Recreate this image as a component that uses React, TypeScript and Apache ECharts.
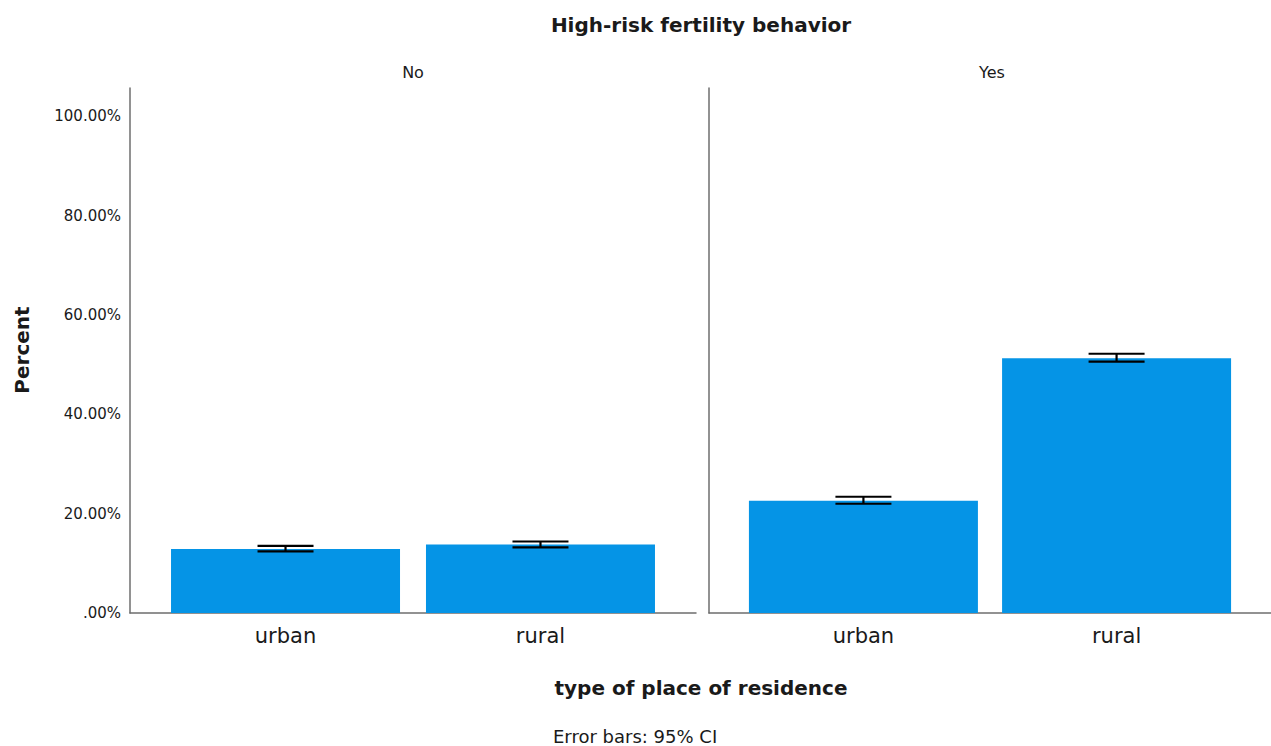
import React, { useEffect, useRef } from "react";
import * as echarts from "echarts";

const categories = ["urban", "rural"];
const panels = ["No", "Yes"];
const noValues = [12.9, 13.8];
const yesValues = [22.6, 51.3];
const noCiLow = [12.4, 13.2];
const noCiHigh = [13.5, 14.4];
const yesCiLow = [22.0, 50.6];
const yesCiHigh = [23.4, 52.2];
const yTicks = [0, 20, 40, 60, 80, 100];

const FONT = "DejaVu Sans";
const BAR_COLOR = "#0594E6";
const AXIS_COLOR = "#6e6e6e";

export default function App() {
  const ref = useRef<HTMLDivElement>(null);
  useEffect(() => {
    if (!ref.current) return;
    const chart = echarts.init(ref.current, undefined, { renderer: "svg" });
    const panelValues = [noValues, yesValues];
    const panelLow = [noCiLow, yesCiLow];
    const panelHigh = [noCiHigh, yesCiHigh];
    const gridLefts = [130, 709];
    const grids = gridLefts.map((l) => ({ left: l, top: 88, width: 566, height: 525 }));
    const xAxes = gridLefts.map((_, i) => ({
      type: "value",
      gridIndex: i,
      min: -0.61,
      max: 1.61,
      axisLine: { show: true, onZero: false, lineStyle: { color: AXIS_COLOR, width: 1.5 } },
      axisTick: { show: false },
      splitLine: { show: false },
      axisLabel: {
        customValues: categories.map((_, k) => k),
        formatter: (v: number) => categories[Math.round(v)] ?? "",
        fontFamily: FONT,
        fontSize: 21,
        color: "#1a1a1a",
        margin: 12,
      },
    }));
    const yAxes = gridLefts.map((_, i) => ({
      type: "value",
      gridIndex: i,
      min: 0,
      max: 105.7,
      interval: 20,
      axisLine: { show: true, onZero: false, lineStyle: { color: AXIS_COLOR, width: 1.5 } },
      axisTick: { show: false },
      splitLine: { show: false },
      axisLabel: {
        show: i === 0,
        customValues: yTicks,
        formatter: (v: number) => (v === 0 ? ".00%" : v.toFixed(2) + "%"),
        fontFamily: FONT,
        fontSize: 15,
        color: "#1a1a1a",
        margin: 9,
      },
    }));
    const series: any[] = [];
    panels.forEach((_, i) => {
      series.push({
        type: "bar",
        xAxisIndex: i,
        yAxisIndex: i,
        barWidth: 229,
        itemStyle: { color: BAR_COLOR },
        data: panelValues[i].map((v, k) => [k, v]),
      });
      series.push({
        type: "custom",
        xAxisIndex: i,
        yAxisIndex: i,
        z: 10,
        data: panelLow[i].map((lo, k) => [k, lo, panelHigh[i][k]]),
        renderItem: (params: any, api: any) => {
          const x = api.value(0);
          const lo = api.coord([x, api.value(1)]);
          const hi = api.coord([x, api.value(2)]);
          const cx = lo[0];
          const hw = 28;
          const style = { stroke: "#000", lineWidth: 2.2 };
          return {
            type: "group",
            children: [
              { type: "line", shape: { x1: cx, y1: lo[1], x2: cx, y2: hi[1] }, style },
              { type: "line", shape: { x1: cx - hw, y1: lo[1], x2: cx + hw, y2: lo[1] }, style },
              { type: "line", shape: { x1: cx - hw, y1: hi[1], x2: cx + hw, y2: hi[1] }, style },
            ],
          };
        },
      });
    });
    chart.setOption({
      animation: false,
      backgroundColor: "#fff",
      grid: grids,
      xAxis: xAxes,
      yAxis: yAxes,
      series,
      graphic: [
        {
          type: "text",
          x: 701,
          y: 25,
          style: {
            text: "High-risk fertility behavior",
            font: `bold 20px "${FONT}"`,
            fill: "#1a1a1a",
            textAlign: "center",
            textVerticalAlign: "middle",
          },
        },
        ...panels.map((p, i) => ({
          type: "text",
          x: gridLefts[i] + 283,
          y: 72,
          style: {
            text: p,
            font: `16px "${FONT}"`,
            fill: "#1a1a1a",
            textAlign: "center",
            textVerticalAlign: "middle",
          },
        })),
        {
          type: "text",
          x: 22,
          y: 350,
          rotation: Math.PI / 2,
          style: {
            text: "Percent",
            font: `bold 20px "${FONT}"`,
            fill: "#1a1a1a",
            textAlign: "center",
            textVerticalAlign: "middle",
          },
        },
        {
          type: "text",
          x: 701,
          y: 688,
          style: {
            text: "type of place of residence",
            font: `bold 20px "${FONT}"`,
            fill: "#1a1a1a",
            textAlign: "center",
            textVerticalAlign: "middle",
          },
        },
        {
          type: "text",
          x: 553,
          y: 736,
          style: {
            text: "Error bars: 95% CI",
            font: `18px "${FONT}"`,
            fill: "#1a1a1a",
            textAlign: "left",
            textVerticalAlign: "middle",
          },
        },
      ],
    });
    return () => chart.dispose();
  }, []);
  return (
    <div
      ref={ref}
      style={{ position: "fixed", left: 0, top: 0, width: 1271, height: 746 }}
    />
  );
}
